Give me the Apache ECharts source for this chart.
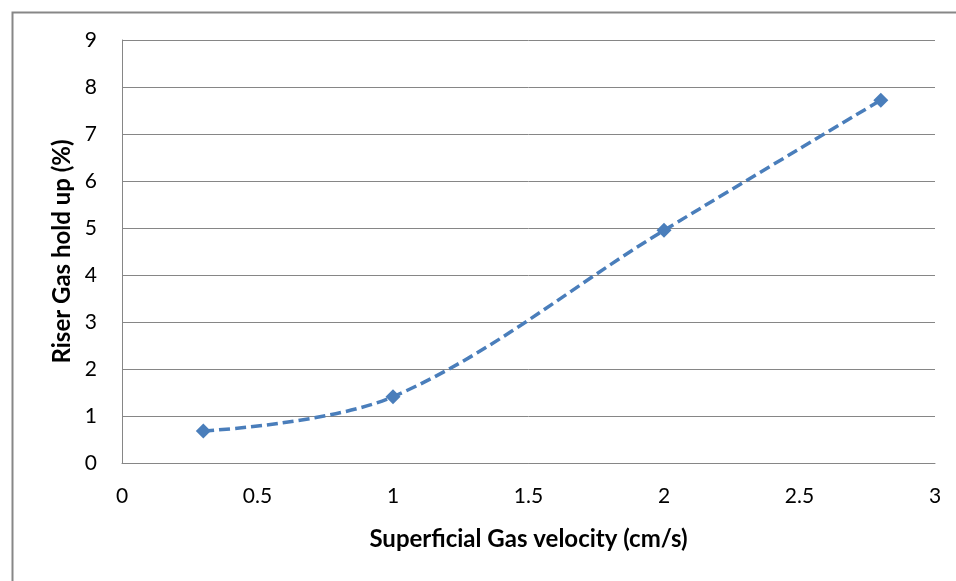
<!DOCTYPE html>
<html>
<head>
<meta charset="utf-8">
<script src="https://cdn.jsdelivr.net/npm/echarts@6/dist/echarts.min.js"></script>
<style>
html,body{margin:0;padding:0;background:#fff;}
#c{width:956px;height:581px;}
</style>
</head>
<body>
<div id="c"></div>
<script>
const xValues = [0.3, 1, 2, 2.8];
const yValues = [0.68, 1.41, 4.95, 7.72];
const xTitle = 'Superficial Gas velocity (cm/s)';
const yTitle = 'Riser Gas hold up (%)';

const font = 'Lato, "Open Sans", sans-serif';
const chart = echarts.init(document.getElementById('c'), null, {renderer: 'canvas'});
chart.setOption({
  animation: false,
  backgroundColor: '#fff',
  graphic: [{
    type: 'rect', left: 10, top: 10, shape: {x: 0, y: 0, width: 1000, height: 1000},
    style: {fill: 'none', stroke: '#878787', lineWidth: 2}, silent: true
  }],
  grid: {left: 122, right: 21, top: 40, bottom: 118},
  xAxis: {
    type: 'value', min: 0, max: 3, interval: 0.5,
    name: xTitle, nameLocation: 'middle', nameGap: 64,
    nameTextStyle: {fontFamily: font, fontSize: 24, fontWeight: 'bold', color: '#000'},
    axisLine: {show: true, onZero: false, lineStyle: {color: '#868686', width: 1}},
    axisTick: {show: false},
    splitLine: {show: false},
    axisLabel: {fontFamily: font, fontSize: 21, color: '#000', margin: 23}
  },
  yAxis: {
    type: 'value', min: 0, max: 9, interval: 1,
    name: yTitle, nameLocation: 'middle', nameGap: 47, nameRotate: 90,
    nameTextStyle: {fontFamily: font, fontSize: 24, fontWeight: 'bold', color: '#000'},
    axisLine: {show: true, lineStyle: {color: '#868686', width: 1}},
    axisTick: {show: false},
    splitLine: {show: true, lineStyle: {color: '#868686', width: 1}},
    axisLabel: {fontFamily: font, fontSize: 21, color: '#000', margin: 25}
  },
  series: [{
    type: 'line',
    data: xValues.map((x, i) => [x, yValues[i]]),
    smooth: 0.35,
    symbol: 'diamond', symbolSize: 15,
    itemStyle: {color: '#4a7ebb'},
    lineStyle: {color: '#4a7ebb', width: 3.5, type: [11, 5]}
  }]
});
</script>
</body>
</html>
